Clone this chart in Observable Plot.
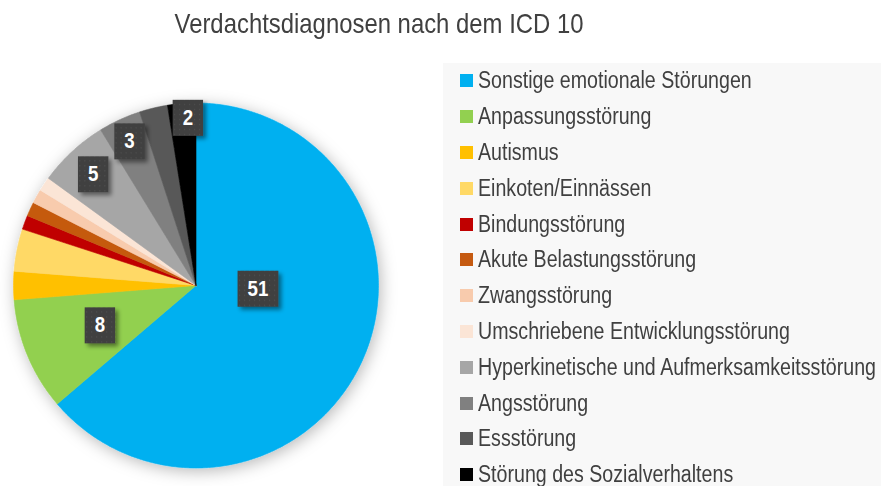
<!DOCTYPE html>
<html>
<head>
<meta charset="utf-8">
<script src="https://cdn.jsdelivr.net/npm/d3@7"></script>
<script src="https://cdn.jsdelivr.net/npm/@observablehq/plot@0.6"></script>
<style>
  html, body { margin: 0; padding: 0; background: #ffffff; width: 881px; height: 486px; overflow: hidden; }
  body { position: relative; font-family: "Liberation Sans", Arial, sans-serif; }
  #title { position: absolute; left: 0; width: 758px; top: 8px; text-align: center; font-size: 28px; color: #404040; white-space: nowrap; transform: scaleX(0.853); transform-origin: 379px 0; }
  #pie { position: absolute; left: 0; top: 0; }
  #legendPanel { position: absolute; left: 443px; top: 63px; width: 438px; height: 423px; background: #f8f8f8; overflow: hidden; }
  #legendPanel .lg-swatches { margin: 0 !important; padding-left: 17px; }
  #legendPanel .lg-swatch { height: 35.8px; font-size: 23px; color: #404040; display: flex; align-items: center; margin: 0 !important; padding: 0 !important; overflow: visible !important; }
  #legendPanel .lg-swatch svg { margin-right: 5px !important; flex: none; }
  #legendPanel .lg-swatch > :not(svg) { overflow: visible !important; max-width: none !important; text-overflow: clip !important; white-space: nowrap; transform: scaleX(0.853); transform-origin: 0 50%; }
</style>
</head>
<body>
<div id="title">Verdachtsdiagnosen nach dem ICD 10</div>
<div id="pie"></div>
<div id="legendPanel"></div>
<script>
const categories = [
  "Sonstige emotionale Störungen",
  "Anpassungsstörung",
  "Autismus",
  "Einkoten/Einnässen",
  "Bindungsstörung",
  "Akute Belastungsstörung",
  "Zwangsstörung",
  "Umschriebene Entwicklungsstörung",
  "Hyperkinetische und Aufmerksamkeitsstörung",
  "Angsstörung",
  "Essstörung",
  "Störung des Sozialverhaltens"
];
const values = [51, 8, 2, 3, 1, 1, 1, 1, 5, 3, 2, 2];
const colors = ["#00B0F0", "#92D050", "#FFC000", "#FFD966", "#C00000", "#C55A11",
                "#F8CBAD", "#FBE5D6", "#A6A6A6", "#808080", "#595959", "#000000"];
const showLabel = [true, true, false, false, false, false, false, false, true, true, false, true];

const FONT = '"Liberation Sans", Arial, sans-serif';

const rows = categories.map((name, i) => ({name, value: values[i], show: showLabel[i]}));
const total = d3.sum(values);
const arcs = d3.pie().sort(null).value(d => d.value)(rows);

// slice outlines (center -> arc -> center), in unit-circle coordinates
const slicePts = [];
for (const a of arcs) {
  const n = Math.max(2, Math.ceil((a.endAngle - a.startAngle) / (Math.PI / 360)));
  slicePts.push({name: a.data.name, x: 0, y: 0});
  for (let k = 0; k <= n; k++) {
    const t = a.startAngle + (a.endAngle - a.startAngle) * k / n;
    slicePts.push({name: a.data.name, x: Math.sin(t), y: Math.cos(t)});
  }
  slicePts.push({name: a.data.name, x: 0, y: 0});
}

// label placement rule (Excel-like best fit: big slice near centre, small slices near the rim)
function labelRadius(f) { return f > 0.5 ? 0.34 : f >= 0.1 ? 0.57 : f >= 0.05 ? 0.83 : f >= 0.03 ? 0.87 : 0.92; }
function labelAngle(a, f) { const m = (a.startAngle + a.endAngle) / 2; return f > 0.5 ? m * 0.81 : f < 0.03 ? m + 0.03 : m; }
const labelPts = arcs.filter(a => a.data.show).map(a => {
  const f = a.data.value / total;
  const m = labelAngle(a, f);
  const r = labelRadius(f);
  return {name: a.data.name, value: a.data.value, x: r * Math.sin(m), y: r * Math.cos(m)};
});

const chart = Plot.plot({
  width: 440,
  height: 486,
  margin: 0,
  x: {domain: [-1, 1], range: [13, 378], axis: null},
  y: {domain: [-1, 1], range: [467.5, 102.5], axis: null},
  color: {domain: categories, range: colors},
  style: {background: "transparent", fontFamily: FONT},
  marks: [
    Plot.line(slicePts, {x: "x", y: "y", z: "name", fill: "name", stroke: "name", strokeWidth: 0.6, curve: "linear"}),
    Plot.text(labelPts, {x: "x", y: "y", text: d => String(d.value), fill: "white", fontWeight: "bold", fontSize: 22, fontFamily: FONT})
  ]
});
document.getElementById("pie").appendChild(chart);

// defs: pie shadow, label shadow, dotted pattern
const svg = d3.select(chart);
const defs = svg.insert("defs", ":first-child");
const f1 = defs.append("filter").attr("id", "pieShadow").attr("x", "-20%").attr("y", "-20%").attr("width", "140%").attr("height", "140%");
f1.append("feDropShadow").attr("dx", 2).attr("dy", 3).attr("stdDeviation", 8).attr("flood-color", "#000").attr("flood-opacity", 0.28);
const f2 = defs.append("filter").attr("id", "boxShadow").attr("x", "-30%").attr("y", "-30%").attr("width", "170%").attr("height", "170%");
f2.append("feDropShadow").attr("dx", 3).attr("dy", 3).attr("stdDeviation", 2).attr("flood-color", "#000").attr("flood-opacity", 0.45);
const pat = defs.append("pattern").attr("id", "dots").attr("width", 5).attr("height", 5).attr("patternUnits", "userSpaceOnUse");
pat.append("rect").attr("width", 5).attr("height", 5).attr("fill", "#3f3f3f");
pat.append("rect").attr("x", 1).attr("y", 1).attr("width", 1.3).attr("height", 1.3).attr("fill", "#4e4e4e");

svg.selectAll('g[aria-label="line"]').attr("filter", "url(#pieShadow)");

svg.selectAll('g[aria-label="text"] text').each(function() {
  const bb = this.getBBox();
  const sx = 0.85;
  const cx = (bb.x + bb.width / 2) * sx, cy = bb.y + bb.height / 2 + 0.5;
  const w = bb.width * sx + 20, h = 36;
  const rect = document.createElementNS("http://www.w3.org/2000/svg", "rect");
  rect.setAttribute("x", cx - w / 2);
  rect.setAttribute("y", cy - h / 2);
  rect.setAttribute("width", w);
  rect.setAttribute("height", h);
  rect.setAttribute("fill", "url(#dots)");
  rect.setAttribute("filter", "url(#boxShadow)");
  const tr = this.getAttribute("transform") || "";
  if (tr) rect.setAttribute("transform", tr);
  this.setAttribute("transform", tr + " scale(" + sx + ",1)");
  this.parentNode.insertBefore(rect, this);
});

// legend
const legend = Plot.legend({
  color: {type: "ordinal", domain: categories, range: colors},
  legend: "swatches",
  columns: 1,
  swatchSize: 13,
  className: "lg",
  style: {fontFamily: FONT, fontSize: "23px", color: "#404040"}
});
document.getElementById("legendPanel").appendChild(legend);
</script>
</body>
</html>
